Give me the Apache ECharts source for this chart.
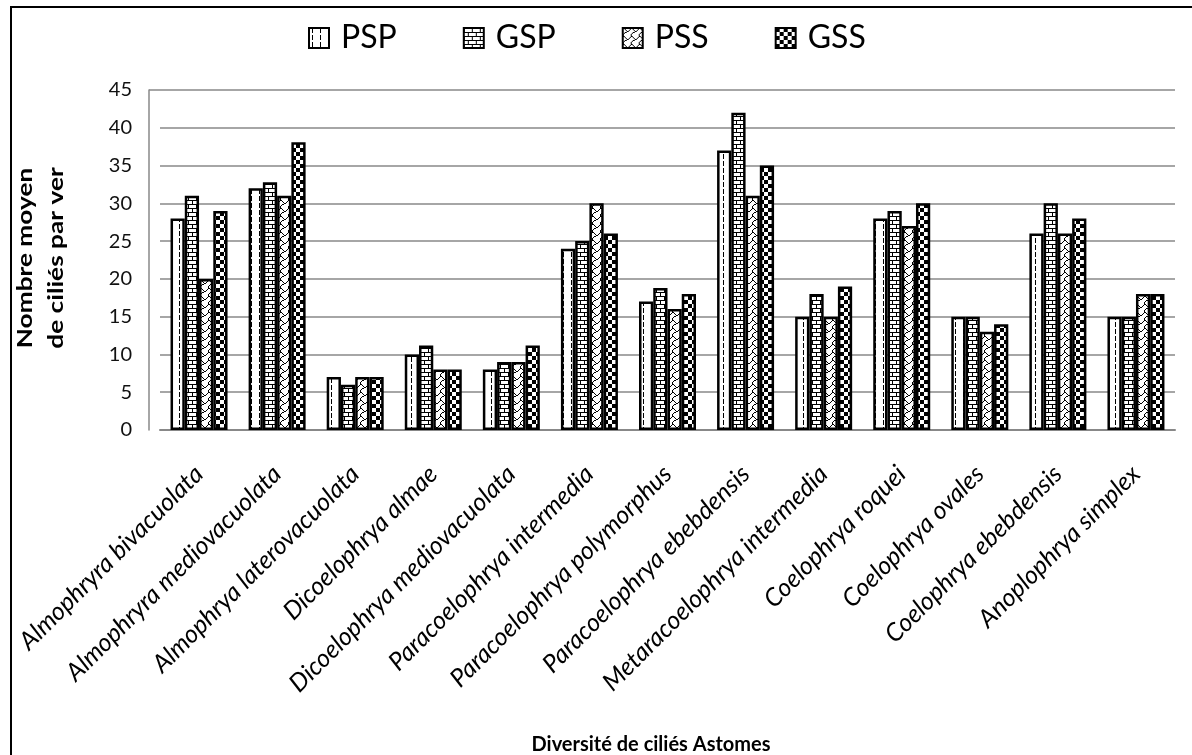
<!DOCTYPE html>
<html>
<head>
<meta charset="utf-8">
<script src="https://cdn.jsdelivr.net/npm/echarts@6/dist/echarts.min.js"></script>
<style>
html,body{margin:0;padding:0;background:#fff;}
#chart{width:1192px;height:755px;}
</style>
</head>
<body>
<div id="chart"></div>
<script>
const categories = [
  'Almophryra bivacuolata',
  'Almophryra mediovacuolata',
  'Almophrya laterovacuolata',
  'Dicoelophrya almae',
  'Dicoelophrya mediovacuolata',
  'Paracoelophrya intermedia',
  'Paracoelophrya polymorphus',
  'Paracoelophrya ebebdensis',
  'Metaracoelophrya intermedia',
  'Coelophrya roquei',
  'Coelophrya ovales',
  'Coelophrya ebebdensis',
  'Anoplophrya simplex'
];
const seriesNames = ['PSP', 'GSP', 'PSS', 'GSS'];
const PSP = [28, 32, 7, 10, 8, 24, 17, 37, 15, 28, 15, 26, 15];
const GSP = [31, 32.8, 6, 11.2, 9, 25, 18.8, 42, 18, 29, 15, 30, 15];
const PSS = [20, 31, 7, 8, 9, 30, 16, 31, 15, 27, 13, 26, 18];
const GSS = [29, 38.1, 7, 8, 11.2, 26, 18, 35, 19, 30, 14, 28, 18];
const yTicks = [0, 5, 10, 15, 20, 25, 30, 35, 40, 45];

function bitPattern(rows) {
  const h = rows.length, w = rows[0].length;
  const c = document.createElement('canvas');
  c.width = w; c.height = h;
  const ctx = c.getContext('2d');
  ctx.fillStyle = '#fff';
  ctx.fillRect(0, 0, w, h);
  ctx.fillStyle = '#000';
  for (let y = 0; y < h; y++) for (let x = 0; x < w; x++) {
    if (rows[y][x] === '1') ctx.fillRect(x, y, 1, 1);
  }
  return { image: c, repeat: 'repeat' };
}
const patterns = {
  PSP: bitPattern([
    '00010000',
    '00010000',
    '00010000',
    '00010000',
    '00010000',
    '00000000',
    '00000000'
  ]),
  GSP: bitPattern([
    '11111111',
    '10000000',
    '10000000',
    '10000000',
    '11111111',
    '00001000',
    '00001000',
    '00001000'
  ]),
  PSS: bitPattern([
    '11000000',
    '00100001',
    '00010010',
    '00001100',
    '00110000',
    '01000000',
    '10000000',
    '10000000'
  ]),
  GSS: bitPattern([
    '11110000',
    '11110000',
    '11110000',
    '11110000',
    '00001111',
    '00001111',
    '00001111',
    '00001111'
  ])
};
const dataBy = { PSP, GSP, PSS, GSS };

const chart = echarts.init(document.getElementById('chart'), null, { renderer: 'canvas' });
const option = {
  backgroundColor: '#fff',
  animation: false,
  legend: {
    top: 17,
    left: 303,
    icon: 'rect',
    itemWidth: 20,
    itemHeight: 20,
    itemGap: 66,
    data: seriesNames,
    itemStyle: { borderColor: '#000', borderWidth: 2 },
    textStyle: { fontFamily: 'Lato', fontSize: 32, color: '#000', padding: [0, 0, 0, 7] }
  },
  grid: { left: 160, right: 17, top: 90, bottom: 325, containLabel: false },
  xAxis: {
    type: 'category',
    data: categories,
    axisLine: { show: true, lineStyle: { color: '#888', width: 2 } },
    axisTick: { show: false },
    axisLabel: {
      interval: 0,
      rotate: 45,
      margin: 40,
      fontFamily: 'Lato',
      fontStyle: 'italic',
      fontSize: 25,
      color: '#000'
    }
  },
  yAxis: {
    type: 'value',
    min: 0,
    max: 45,
    interval: 5,
    offset: 11,
    axisLine: { show: true, lineStyle: { color: '#888', width: 1.5 } },
    axisTick: { show: false },
    splitLine: { lineStyle: { color: '#888', width: 1.5 } },
    axisLabel: {
      margin: 17,
      fontFamily: 'Lato',
      fontSize: 20,
      color: '#111',
      formatter: function (v) { return yTicks.indexOf(v) >= 0 ? String(v) : ''; }
    }
  },
  series: seriesNames.map(function (n) {
    return {
      name: n,
      type: 'bar',
      data: dataBy[n],
      barGap: '0%',
      barCategoryGap: '27%',
      itemStyle: { color: patterns[n], borderColor: '#000', borderWidth: 2.5 }
    };
  }),
  graphic: [
    {
      type: 'rect',
      shape: { x: 11, y: 7, width: 1200, height: 800 },
      style: { fill: 'none', stroke: '#000', lineWidth: 2 },
      silent: true
    },
    {
      type: 'line',
      shape: { x1: 149, y1: 90, x2: 160, y2: 90 },
      style: { stroke: '#888', lineWidth: 1.5 },
      silent: true
    },
    {
      type: 'text',
      x: 41, y: 258,
      rotation: Math.PI / 2,
      scaleX: 1.25,
      style: {
        text: 'Nombre moyen\nde ciliés par ver',
        fontFamily: 'Lato', fontWeight: 'bold', fontSize: 21,
        lineHeight: 31, fill: '#000', align: 'center', verticalAlign: 'middle'
      },
      silent: true
    },
    {
      type: 'text',
      x: 651, y: 745,
      style: {
        text: 'Diversité de ciliés Astomes',
        fontFamily: 'Lato', fontWeight: 'bold', fontSize: 20,
        fill: '#000', align: 'center', verticalAlign: 'middle'
      },
      silent: true
    }
  ]
};
chart.setOption(option);
</script>
</body>
</html>
